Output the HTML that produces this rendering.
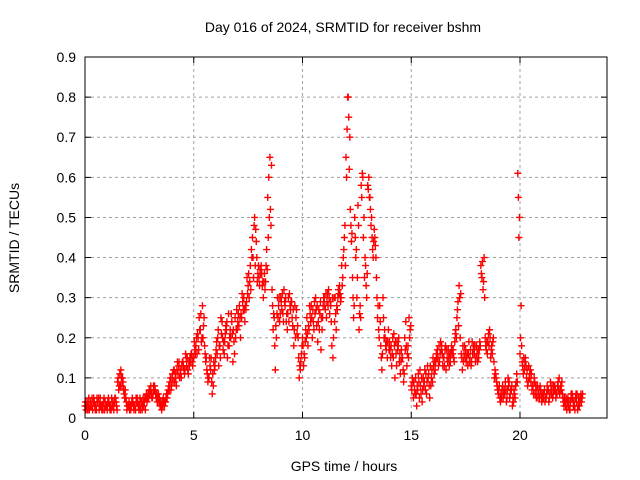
<!DOCTYPE html>
<html><head><meta charset="utf-8"><style>
body{margin:0;background:#fff;}
svg{display:block;font-family:"Liberation Sans",sans-serif;}
</style></head><body>
<svg id="chart" width="640" height="480" viewBox="0 0 640 480">
<rect width="640" height="480" fill="#fff"/>
<text x="343" y="32" text-anchor="middle" font-size="14">Day 016 of 2024, SRMTID for receiver bshm</text>
<text x="344" y="471" text-anchor="middle" font-size="14">GPS time / hours</text>
<text transform="translate(19,238) rotate(-90)" text-anchor="middle" font-size="14">SRMTID / TECUs</text>
<g id="grid"></g>
<g id="ticks"></g>
<g id="marks"></g>
<rect x="85" y="57" width="522" height="361" fill="none" stroke="#000" stroke-width="1"/>
</svg>
<script>
const xTicks=[0,5,10,15,20];
const yTicks=[0,0.1,0.2,0.3,0.4,0.5,0.6,0.7,0.8,0.9];
const yTickLabels=["0","0.1","0.2","0.3","0.4","0.5","0.6","0.7","0.8","0.9"];
const timeStep=0.1;
const seriesA=[0.03,0.04,0.02,0.03,0.05,0.03,0.04,0.05,0.03,0.02,
0.03,0.04,0.02,0.03,0.05,0.09,0.11,0.08,0.06,0.04,
0.03,0.02,0.04,0.03,0.05,0.03,0.04,0.03,0.05,0.06,
0.07,0.05,0.08,0.06,0.04,0.03,0.05,0.04,0.06,0.09,
0.10,0.12,0.08,0.13,0.11,0.14,0.12,0.15,0.13,0.16,
0.15,0.18,0.20,0.22,0.28,0.18,0.12,0.10,0.15,0.08,
0.15,0.20,0.18,0.24,0.16,0.22,0.26,0.20,0.14,0.25,
0.22,0.28,0.25,0.30,0.27,0.33,0.38,0.45,0.50,0.40,
0.35,0.38,0.30,0.34,0.55,0.65,0.32,0.25,0.20,0.28,
0.30,0.26,0.28,0.22,0.31,0.29,0.18,0.25,0.20,0.12,
0.20,0.15,0.25,0.22,0.28,0.24,0.30,0.19,0.26,0.22,
0.30,0.25,0.32,0.28,0.15,0.30,0.27,0.33,0.38,0.42,
0.65,0.80,0.52,0.35,0.50,0.30,0.22,0.58,0.45,0.38,
0.58,0.55,0.45,0.47,0.35,0.22,0.18,0.30,0.20,0.15,
0.19,0.13,0.21,0.16,0.18,0.11,0.15,0.20,0.13,0.25,
0.08,0.05,0.10,0.07,0.12,0.04,0.09,0.06,0.11,0.08,
0.15,0.12,0.17,0.14,0.18,0.15,0.12,0.17,0.14,0.16,
0.19,0.25,0.33,0.16,0.14,0.17,0.13,0.15,0.19,0.16,
0.18,0.15,0.38,0.32,0.20,0.16,0.22,0.18,0.14,0.10,
0.06,0.04,0.08,0.06,0.05,0.09,0.07,0.04,0.08,0.61,
0.16,0.14,0.12,0.10,0.13,0.09,0.08,0.06,0.08,0.05,
0.04,0.06,0.05,0.07,0.09,0.05,0.08,0.06,0.10,0.07,
0.04,0.03,0.05,0.02,0.06,0.03,0.04,0.05,0.06];
const seriesB=[0.02,0.03,0.04,0.02,0.03,0.05,0.02,0.03,0.04,0.03,
0.04,0.02,0.03,0.04,0.03,0.07,0.12,0.09,0.07,0.03,
0.02,0.04,0.02,0.05,0.03,0.02,0.03,0.05,0.04,0.07,
0.06,0.08,0.06,0.05,0.03,0.04,0.03,0.06,0.08,0.07,
0.09,0.11,0.14,0.10,0.13,0.12,0.15,0.11,0.14,0.13,
0.17,0.16,0.25,0.19,0.23,0.14,0.09,0.13,0.06,0.12,
0.19,0.13,0.25,0.17,0.21,0.15,0.20,0.24,0.19,0.22,
0.26,0.20,0.29,0.24,0.35,0.30,0.42,0.35,0.47,0.36,
0.37,0.33,0.36,0.42,0.60,0.48,0.22,0.12,0.30,0.24,
0.27,0.32,0.24,0.30,0.27,0.23,0.28,0.21,0.10,0.16,
0.13,0.22,0.18,0.26,0.20,0.29,0.23,0.27,0.17,0.28,
0.27,0.31,0.26,0.18,0.30,0.22,0.32,0.29,0.35,0.48,
0.72,0.62,0.44,0.25,0.40,0.53,0.28,0.61,0.35,0.30,
0.60,0.48,0.40,0.43,0.25,0.28,0.12,0.20,0.17,0.22,
0.15,0.20,0.10,0.19,0.14,0.17,0.09,0.24,0.18,0.22,
0.10,0.07,0.03,0.09,0.06,0.10,0.07,0.13,0.05,0.12,
0.11,0.16,0.13,0.19,0.13,0.17,0.15,0.13,0.18,0.15,
0.22,0.29,0.20,0.12,0.18,0.15,0.19,0.13,0.17,0.14,
0.14,0.19,0.35,0.40,0.17,0.21,0.15,0.19,0.12,0.08,
0.08,0.05,0.06,0.07,0.10,0.06,0.03,0.06,0.11,0.45,
0.28,0.11,0.15,0.08,0.11,0.07,0.10,0.05,0.06,0.07,
0.06,0.04,0.08,0.05,0.06,0.08,0.05,0.09,0.07,0.06,
0.05,0.02,0.04,0.06,0.03,0.05,0.02,0.04,0.05];
const seriesC=[0.04,0.02,0.03,0.05,0.04,0.02,0.05,0.03,0.02,0.04,
0.02,0.03,0.05,0.02,0.04,0.10,0.08,0.10,0.05,0.02,
0.04,0.03,0.03,0.02,0.04,0.05,0.02,0.04,0.06,0.05,
0.08,0.06,0.07,0.04,0.05,0.02,0.04,0.05,0.07,0.10,
0.11,0.09,0.12,0.14,0.10,0.13,0.16,0.12,0.15,0.14,
0.19,0.20,0.17,0.26,0.20,0.16,0.11,0.15,0.09,0.14,
0.17,0.22,0.15,0.20,0.19,0.24,0.18,0.26,0.22,0.20,
0.24,0.25,0.31,0.27,0.29,0.36,0.32,0.40,0.38,0.34,
0.33,0.36,0.34,0.38,0.45,0.52,0.28,0.18,0.26,0.30,
0.29,0.24,0.30,0.26,0.28,0.25,0.22,0.27,0.15,0.14,
0.18,0.19,0.21,0.28,0.25,0.22,0.27,0.24,0.29,0.25,
0.28,0.29,0.30,0.24,0.20,0.26,0.30,0.31,0.33,0.45,
0.60,0.75,0.48,0.30,0.45,0.35,0.26,0.55,0.50,0.33,
0.57,0.52,0.42,0.45,0.30,0.20,0.15,0.25,0.18,0.19,
0.17,0.16,0.18,0.13,0.20,0.14,0.12,0.17,0.16,0.20,
0.07,0.09,0.06,0.11,0.08,0.07,0.12,0.09,0.08,0.10,
0.13,0.14,0.15,0.16,0.16,0.13,0.17,0.15,0.16,0.17,
0.21,0.27,0.30,0.15,0.16,0.14,0.16,0.17,0.16,0.18,
0.16,0.17,0.36,0.34,0.18,0.19,0.20,0.16,0.10,0.09,
0.07,0.06,0.05,0.09,0.07,0.05,0.08,0.07,0.09,0.55,
0.20,0.13,0.14,0.12,0.10,0.11,0.06,0.08,0.05,0.08,
0.05,0.07,0.06,0.04,0.07,0.06,0.07,0.08,0.06,0.09,
0.03,0.05,0.03,0.04,0.05,0.02,0.06,0.03,0.04];
const seriesD=[0.03,0.05,0.03,0.04,0.02,0.04,0.03,0.02,0.05,0.03,
0.05,0.03,0.04,0.05,0.02,0.08,0.10,0.07,0.05,0.03,
0.03,0.05,0.03,0.04,0.02,0.04,0.05,0.02,0.05,0.06,
0.05,0.07,0.05,0.06,0.04,0.03,0.04,0.05,0.07,0.08,
0.12,0.10,0.11,0.12,0.14,0.11,0.13,0.14,0.16,0.15,
0.16,0.21,0.22,0.20,0.25,0.15,0.10,0.12,0.11,0.13,
0.16,0.18,0.21,0.19,0.23,0.18,0.22,0.21,0.16,0.27,
0.23,0.26,0.27,0.28,0.31,0.34,0.40,0.48,0.44,0.38,
0.36,0.34,0.32,0.37,0.50,0.63,0.26,0.23,0.25,0.26,
0.31,0.29,0.26,0.24,0.29,0.27,0.20,0.23,0.13,0.18,
0.16,0.20,0.23,0.24,0.27,0.26,0.28,0.22,0.25,0.30,
0.31,0.28,0.29,0.30,0.24,0.28,0.31,0.30,0.40,0.38,
0.80,0.70,0.46,0.28,0.42,0.48,0.25,0.60,0.40,0.36,
0.55,0.50,0.44,0.40,0.28,0.24,0.16,0.22,0.19,0.17,
0.18,0.15,0.19,0.17,0.16,0.15,0.11,0.18,0.15,0.23,
0.09,0.06,0.08,0.05,0.10,0.08,0.11,0.10,0.13,0.09,
0.14,0.15,0.18,0.17,0.15,0.18,0.14,0.16,0.17,0.14,
0.20,0.23,0.31,0.18,0.15,0.16,0.14,0.14,0.18,0.15,
0.17,0.18,0.39,0.30,0.19,0.18,0.17,0.20,0.11,0.07,
0.05,0.07,0.07,0.04,0.08,0.07,0.05,0.05,0.09,0.50,
0.18,0.15,0.13,0.09,0.12,0.08,0.09,0.07,0.07,0.06,
0.05,0.05,0.07,0.06,0.08,0.07,0.06,0.07,0.08,0.05,
0.04,0.04,0.02,0.05,0.04,0.06,0.03,0.05,0.06];

const L=85,R=607,T=57,B=418,XMAX=24,YMAX=0.9;
function xs(v){return L+(v/XMAX)*(R-L);}
function ys(v){return B-(v/YMAX)*(B-T);}
const NS="http://www.w3.org/2000/svg";
function mk(tag,attrs,parent){const e=document.createElementNS(NS,tag);for(const k in attrs)e.setAttribute(k,attrs[k]);parent.appendChild(e);return e;}
const grid=document.getElementById('grid'),ticks=document.getElementById('ticks'),marks=document.getElementById('marks');
yTicks.forEach((v,i)=>{
  const y=ys(v);
  if(i>0&&i<yTicks.length-1){
    const g=mk('line',{x1:L,x2:R,y1:y,y2:y,stroke:'#a0a0a0','stroke-dasharray':'3,3'},grid);
    
    
  }
  const t=mk('path',{d:`M${L},${y}h6M${R},${y}h-6`,stroke:'#000'},ticks);
  
  
  const lb=mk('text',{x:L-9,y:y+5,'text-anchor':'end','font-size':'14'},ticks);
  lb.textContent=yTickLabels[i];
  
  
});
xTicks.forEach(v=>{
  const x=xs(v);
  if(v>0){
    const g=mk('line',{x1:x,x2:x,y1:T,y2:B,stroke:'#a0a0a0','stroke-dasharray':'3,3'},grid);
    
    
  }
  const t=mk('path',{d:`M${x},${B}v-6M${x},${T}v6`,stroke:'#000'},ticks);
  
  
  const lb=mk('text',{x:x,y:B+22,'text-anchor':'middle','font-size':'14'},ticks);
  lb.textContent=String(v);
  
  
});
function plus(x,y,color){
  const p=mk('path',{d:`M${x-3.5},${y}h7M${x},${y-3.5}v7`,stroke:color,'stroke-width':'1.4'},marks);
  
  
}
seriesC.forEach((v,i)=>{plus(xs(i*timeStep+0.025),ys(v),'#ff0000');});
seriesD.forEach((v,i)=>{plus(xs(i*timeStep+0.075),ys(v),'#ff0000');});
seriesB.forEach((v,i)=>{plus(xs(i*timeStep+0.05),ys(v),'#ff0000');});
seriesA.forEach((v,i)=>{plus(xs(i*timeStep),ys(v),'#ff0000');});
</script>
</body></html>
